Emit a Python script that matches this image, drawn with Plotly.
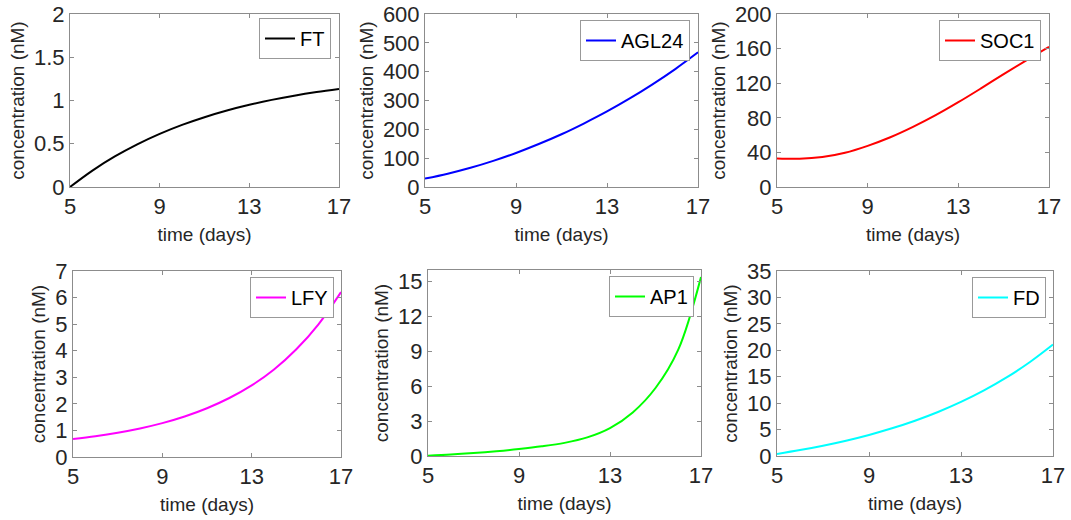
import plotly.graph_objects as go

W, H = 1071, 520

time_days = [5, 6, 7, 8, 9, 10, 11, 12, 13, 14, 15, 16, 17]
ft = [0.0, 0.19, 0.353, 0.493, 0.614, 0.718, 0.807, 0.884, 0.95, 1.007, 1.056, 1.098, 1.134]
agl24 = [29, 46, 66.5, 90.5, 118, 149, 183, 221, 262, 307, 356, 409, 467]
soc1 = [33, 32.6, 34.6, 39.6, 47.6, 57.5, 69.5, 83, 98, 114, 130.5, 146.5, 162]
lfy = [0.68, 0.785, 0.915, 1.075, 1.275, 1.525, 1.835, 2.22, 2.695, 3.295, 4.055, 5.005, 6.205]
ap1 = [0.03, 0.12, 0.25, 0.41, 0.6, 0.83, 1.13, 1.6, 2.4, 3.75, 5.85, 9.15, 15.4]
fd = [0.4, 1.12, 1.95, 2.9, 3.99, 5.24, 6.68, 8.33, 10.23, 12.41, 14.91, 17.78, 21.08]

names = ["FT", "AGL24", "SOC1", "LFY", "AP1", "FD"]
series = [ft, agl24, soc1, lfy, ap1, fd]
colors = ["#000000", "#0000ff", "#ff0000", "#ff00ff", "#00ff00", "#00ffff"]
y_ranges = [[0, 2], [0, 600], [0, 200], [0, 7], [0, 16], [0, 35]]
y_dticks = [0.5, 100, 40, 1, 3, 5]
x_ticks = [5, 9, 13, 17]

# plot areas in pixels: (left, right, top, bottom)
boxes = [(70, 339, 14, 187), (425, 698, 14, 187), (777, 1049, 14, 187),
         (73, 341, 271, 457), (428, 701, 270, 456), (777, 1053, 271, 456)]
legend_tr = [(331, 18), (690, 20), (1041, 20), (334, 277), (694, 276), (1046, 277)]

TXT = "#262626"
AX = "#8c8c8c"
FONT = "Liberation Sans, Arial, sans-serif"

fig = go.Figure()
layout = dict(
    width=W, height=H,
    margin=dict(l=0, r=0, t=0, b=0),
    paper_bgcolor="white", plot_bgcolor="white",
    font=dict(family=FONT, color=TXT),
    showlegend=True,
)

for i in range(6):
    k = "" if i == 0 else str(i + 1)
    lg = "legend" if i == 0 else f"legend{i + 1}"
    fig.add_trace(go.Scatter(
        x=time_days, y=series[i], mode="lines", name=names[i],
        line=dict(color=colors[i], width=2, shape="spline", smoothing=1.0),
        xaxis="x" + k, yaxis="y" + k, legend=lg,
    ))
    l, r, t, b = boxes[i]
    common = dict(showline=True, linecolor=AX, linewidth=1, mirror="ticks",
                  ticks="inside", ticklen=4, tickcolor=AX, showgrid=False,
                  zeroline=False, tickfont=dict(size=22, color=TXT, family=FONT),
                  automargin=False)
    layout["xaxis" + k] = dict(
        domain=[l / W, r / W], anchor="y" + k, range=[5, 17],
        tickvals=x_ticks,
        title=dict(text="time (days)", font=dict(size=19, color=TXT), standoff=9),
        **common)
    layout["yaxis" + k] = dict(
        domain=[1 - b / H, 1 - t / H], anchor="x" + k, range=y_ranges[i],
        dtick=y_dticks[i], tick0=0,
        title=dict(text="concentration (nM)", font=dict(size=19, color=TXT), standoff=4),
        **common)
    lx, ly = legend_tr[i]
    layout[lg] = dict(
        x=lx / W, y=1 - ly / H, xanchor="right", yanchor="top",
        xref="paper", yref="paper",
        bgcolor="white", bordercolor="#999999", borderwidth=1,
        font=dict(size=20, color="#000000", family=FONT),
        itemwidth=30, tracegroupgap=0,
    )

fig.update_layout(**layout)
fig.write_html("out.html")
